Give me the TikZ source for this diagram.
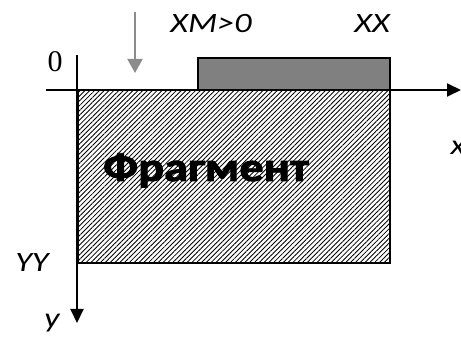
\documentclass[tikz,border=0pt]{standalone}
\usepackage{fontspec}
\setmainfont{Carlito}
\newfontfamily\serifnum{Liberation Serif}
\newfontfamily\fragfont{Carlito Bold}[FakeBold=2]
\usetikzlibrary{arrows.meta,patterns.meta}
\tikzset{
  axis/.style={line width=2pt,-{Triangle[length=14pt,width=13pt]}},
  lbl/.style={inner sep=0pt,anchor=base,font=\fontsize{28}{28}\selectfont\itshape},
  hatchbox/.style={draw,line width=1.8pt,pattern={Lines[angle=45,distance=3.4pt,line width=0.85pt]}},
  graybox/.style={draw,line width=1.6pt,fill=gray},
  marker/.style={line width=2pt,draw=gray!90,-{Triangle[length=14pt,width=15pt]}}
}
\newcommand{\wide}[1]{\scalebox{1.22}[1]{#1}}
\begin{document}
\begin{tikzpicture}[x=1pt,y=-1pt]
\useasboundingbox (0,0) rectangle (461,339);
\coordinate (xs) at (46,90);
\coordinate (xe) at (461,90);
\coordinate (ys) at (77,55);
\coordinate (ye) at (77,323);
\coordinate (ms) at (135,12);
\coordinate (me) at (135,73);
\path[hatchbox] (78,90) rectangle (390,263);
\node[inner sep=0pt,anchor=base,font=\fragfont\fontsize{41}{41}\selectfont] (frag) at (206,181) {\scalebox{1.18}[1]{Фрагмент}};
\path[graybox] (198,58) rectangle (390,90);
\node[inner sep=0pt,minimum width=192pt,minimum height=32pt] (gb) at (294,74) {};
\draw[axis] (xs) -- (xe);
\draw[axis] (ys) -- (ye);
\draw[marker] (ms) -- (me);
\node[lbl] (xm) at (211,33) {\wide{XM>0}};
\node[lbl] (xx) at (372,33) {\wide{XX}};
\node[inner sep=0pt,anchor=base,font=\serifnum\fontsize{30}{30}\selectfont] (zero) at (55,72) {0};
\node[lbl] (xl) at (458,155) {\wide{x}};
\node[lbl] (yy) at (32,272) {\wide{YY}};
\node[lbl] (yl) at (52,328) {\wide{y}};
\end{tikzpicture}
\end{document}
